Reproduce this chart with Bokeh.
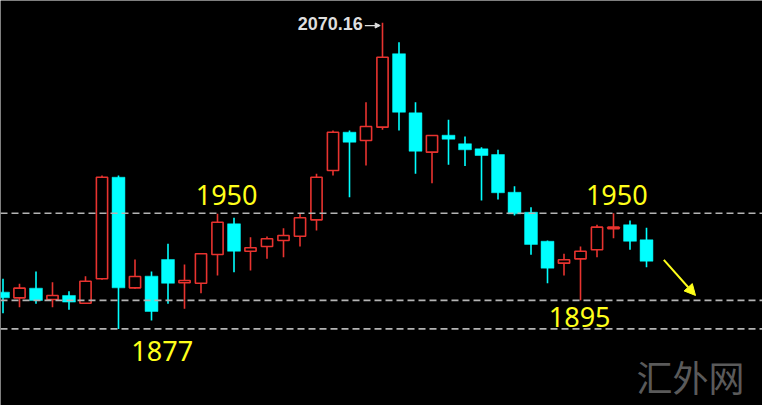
from bokeh.plotting import figure
from bokeh.models import Range1d, ColumnDataSource, Arrow, NormalHead, Span
from bokeh.core.properties import value
from bokeh.embed import file_html
from bokeh.resources import INLINE

# ---- data (daily OHLC) ----
opens  = [1900.2, 1896.6, 1902.7, 1895.6, 1898.1, 1893.2, 1908.6, 1972.7, 1902.9, 1910.3,
          1920.8, 1906.1, 1905.8, 1923.9, 1943.3, 1926.0, 1929.0, 1932.8, 1935.5, 1945.8,
          1976.9, 2001.1, 1995.9, 2004.3, 2050.6, 2013.3, 1988.5, 1999.2, 1993.8, 1990.6,
          1987.0, 1963.2, 1950.6, 1932.3, 1918.5, 1921.2, 1926.9, 1940.2, 1942.7, 1933.2]
highs  = [1908.6, 1905.5, 1913.2, 1906.5, 1900.8, 1910.3, 1973.8, 1973.8, 1920.8, 1913.2,
          1930.7, 1917.6, 1924.4, 1949.6, 1947.1, 1934.9, 1935.3, 1940.5, 1949.6, 1974.9,
          2002.2, 2002.2, 2020.0, 2070.16, 2057.9, 2020.0, 1999.0, 2008.9, 1998.4, 1991.6,
          1990.0, 1967.0, 1953.8, 1932.8, 1924.4, 1929.0, 1942.7, 1950.0, 1945.4, 1940.8]
lows   = [1886.9, 1890.7, 1892.8, 1890.7, 1889.1, 1892.8, 1908.0, 1877.0, 1902.3, 1882.3,
          1892.8, 1889.7, 1899.5, 1910.7, 1912.8, 1913.9, 1921.2, 1922.2, 1929.0, 1939.1,
          1973.8, 1960.1, 1980.1, 2002.6, 2002.2, 1974.9, 1968.9, 1980.5, 1979.7, 1958.0,
          1958.6, 1948.5, 1923.8, 1905.8, 1910.7, 1895.0, 1922.2, 1934.2, 1926.9, 1915.9]
closes = [1896.6, 1902.7, 1894.9, 1898.1, 1893.9, 1907.1, 1972.7, 1902.9, 1910.1, 1888.0,
          1905.8, 1907.5, 1924.4, 1944.3, 1926.0, 1928.2, 1933.9, 1935.9, 1947.1, 1972.7,
          2001.1, 1994.8, 2004.7, 2048.4, 2013.7, 1989.1, 1999.0, 1996.7, 1990.0, 1986.4,
          1962.9, 1949.6, 1930.3, 1915.3, 1920.6, 1926.0, 1941.2, 1941.2, 1932.3, 1919.7]

level_lines = [1950.0, 1895.0, 1877.0]
label_texts = ["1950", "1877", "1950", "1895"]
label_x = [13.55, 9.65, 37.2, 34.95]
label_y = [1961.5, 1863.0, 1961.5, 1884.5]
peak_text = ["2070.16"]
peak_x = [21.8]
peak_y = [2069.4]
mark_text = ["汇外网"]
mark_x = [41.67]
mark_y = [1847.6]

RED = "#e8332f"
CYAN = "#00ffff"

idx = list(range(len(opens)))
up = [c >= o for o, c in zip(opens, closes)]

up_src = ColumnDataSource(dict(
    x=[i for i in idx if up[i]],
    top=[closes[i] for i in idx if up[i]],
    bottom=[opens[i] for i in idx if up[i]],
    high=[highs[i] for i in idx if up[i]],
    low=[lows[i] for i in idx if up[i]],
))
dn_src = ColumnDataSource(dict(
    x=[i for i in idx if not up[i]],
    top=[opens[i] for i in idx if not up[i]],
    bottom=[closes[i] for i in idx if not up[i]],
    high=[highs[i] for i in idx if not up[i]],
    low=[lows[i] for i in idx if not up[i]],
))

p = figure(width=762, height=405, output_backend="svg", toolbar_location=None,
           x_range=Range1d(-0.1515, 46.03), y_range=Range1d(1828.68, 2084.19),
           min_border=0, background_fill_color="black", border_fill_color="black",
           outline_line_color=None)
p.axis.visible = False
p.grid.visible = False

for lv in level_lines:
    p.add_layout(Span(location=lv, dimension="width", line_color="#b4b4b4",
                      line_width=1.6, line_dash="7 4"))

# wicks
p.segment(x0="x", y0="high", x1="x", y1="low", source=up_src, line_color=RED, line_width=1.6)
p.segment(x0="x", y0="high", x1="x", y1="low", source=dn_src, line_color=CYAN, line_width=1.6)
# bodies
p.vbar(x="x", top="top", bottom="bottom", width=0.68, source=up_src,
       fill_color="black", line_color=RED, line_width=1.6)
p.vbar(x="x", top="top", bottom="bottom", width=0.78, source=dn_src,
       fill_color=CYAN, line_color=CYAN, line_width=0.5)

# yellow price labels
p.text(x=label_x, y=label_y, text=label_texts, text_color="#ffff1a",
       text_font=value("Noto Sans"), text_font_size="27px",
       text_align="center", text_baseline="middle")

# peak label
p.text(x=peak_x, y=peak_y, text=peak_text, text_color="#dedede",
       text_font=value("Liberation Sans"), text_font_style="bold", text_font_size="18px",
       text_align="right", text_baseline="middle")
p.add_layout(Arrow(x_start=21.93, y_start=2068.4, x_end=22.86, y_end=2068.4,
                   line_color="#dedede", line_width=1.3,
                   end=NormalHead(size=5, fill_color="#dedede", line_color="#dedede")))

# yellow trend arrow
p.add_layout(Arrow(x_start=40.05, y_start=1920.6, x_end=41.97, y_end=1898.1,
                   line_color="#ffff1a", line_width=2.0,
                   end=NormalHead(size=11, fill_color="#ffff1a", line_color="#ffff1a")))

# watermark
p.text(x=mark_x, y=mark_y, text=mark_text, text_color="#5a5a5a",
       text_font=value("Noto Sans CJK SC"), text_font_size="36px",
       text_align="center", text_baseline="middle")

open("out.html", "w").write(file_html(p, INLINE))
